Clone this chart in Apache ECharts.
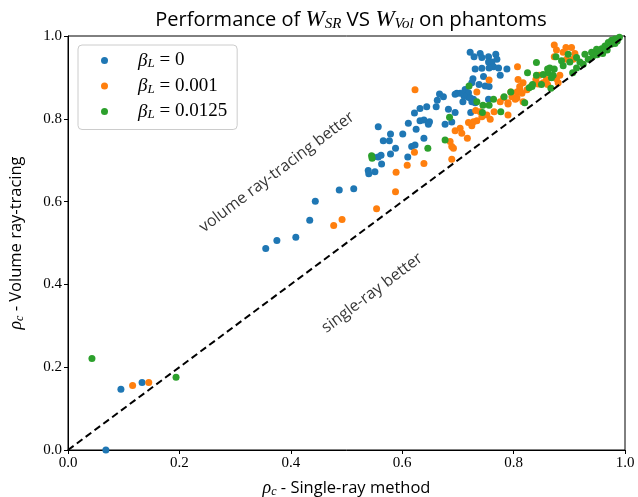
<!DOCTYPE html>
<html><head><meta charset="utf-8">
<script src="https://cdn.jsdelivr.net/npm/echarts@6/dist/echarts.min.js"></script>
<style>html,body{margin:0;padding:0;background:#fff}#c{width:638px;height:497px}</style>
</head><body><div id="c"></div>
<script>
const seriesNames = ['β_L = 0', 'β_L = 0.001', 'β_L = 0.0125'];
const legendValues = ['0', '0.001', '0.0125'];
const tickValues = [0, 0.2, 0.4, 0.6, 0.8, 1.0];
const diagonal = [[0, 0], [1, 1]];

const blueData = [
[0.355,0.487],[0.375,0.506],[0.409,0.514],[0.434,0.555],[0.444,0.601],[0.487,0.628],[0.513,0.631],
[0.557,0.781],[0.579,0.763],[0.566,0.747],[0.577,0.747],[0.601,0.763],[0.611,0.789],[0.622,0.814],[0.632,0.795],[0.639,0.797],[0.649,0.793],[0.647,0.787],[0.625,0.775],[0.639,0.753],[0.588,0.729],[0.617,0.733],[0.623,0.737],[0.610,0.708],[0.579,0.715],[0.562,0.712],[0.557,0.708],[0.548,0.708],[0.539,0.675],[0.540,0.667],[0.551,0.672],
[0.632,0.825],[0.644,0.829],[0.661,0.829],[0.663,0.845],[0.667,0.860],[0.674,0.853],[0.698,0.862],[0.713,0.857],[0.719,0.852],[0.709,0.841],[0.725,0.841],[0.723,0.815],[0.695,0.815],[0.683,0.823],[0.677,0.787],[0.689,0.792],[0.563,0.691],
[0.722,0.961],[0.729,0.950],[0.740,0.958],[0.743,0.948],[0.755,0.950],[0.768,0.956],[0.770,0.944],[0.755,0.937],[0.761,0.937],[0.764,0.926],[0.756,0.923],[0.773,0.923],[0.788,0.920],[0.743,0.922],[0.731,0.920],[0.776,0.905],[0.746,0.902],[0.727,0.897],[0.725,0.887],[0.738,0.883],[0.749,0.879],[0.756,0.878],[0.713,0.871],[0.719,0.863],[0.711,0.855],[0.722,0.851],[0.704,0.862],[0.695,0.859],[0.728,0.847],[0.731,0.839],[0.755,0.847],
[0.095,0.147],[0.133,0.163],[0.068,0.0]
];
const orangeData = [
[0.477,0.542],[0.492,0.557],[0.554,0.583],[0.588,0.624],[0.622,0.719],[0.639,0.692],[0.609,0.688],[0.589,0.671],[0.623,0.870],[0.734,0.865],[0.695,0.771],[0.704,0.777],[0.707,0.765],[0.719,0.791],[0.725,0.783],[0.734,0.795],[0.743,0.805],[0.740,0.817],[0.752,0.809],[0.765,0.817],[0.776,0.841],[0.790,0.809],[0.717,0.753],[0.686,0.745],[0.689,0.733],[0.692,0.729],[0.689,0.702],
[0.807,0.926],[0.756,0.894],[0.782,0.851],[0.795,0.865],[0.808,0.895],[0.817,0.887],[0.811,0.871],[0.803,0.847],[0.790,0.839],[0.859,0.895],[0.853,0.887],[0.758,0.799],
[0.811,0.878],[0.806,0.865],[0.815,0.862],[0.824,0.870],[0.797,0.853],[0.806,0.850],[0.817,0.841],[0.790,0.836],[0.732,0.820],[0.728,0.793],[0.844,0.884],[0.880,0.887],
[0.873,0.978],[0.877,0.966],[0.894,0.972],[0.904,0.972],[0.889,0.961],[0.910,0.958],[0.873,0.950],[0.895,0.944],[0.907,0.944],[0.846,0.905],[0.840,0.895],[0.861,0.883],[0.883,0.905],[0.877,0.897],[0.832,0.879],
[0.116,0.156],[0.145,0.163]
];
const greenData = [
[0.043,0.221],[0.194,0.176],[0.545,0.711],[0.546,0.705],[0.646,0.729],[0.685,0.804],[0.677,0.749],[0.734,0.841],[0.745,0.833],[0.744,0.815],[0.756,0.833],[0.764,0.847],[0.777,0.817],[0.783,0.853],[0.720,0.879],[0.841,0.936],[0.825,0.911],[0.841,0.905],[0.850,0.883],[0.861,0.920],[0.828,0.875],[0.820,0.839],[0.795,0.865],[0.833,0.878],[0.867,0.874],
[0.876,0.950],[0.886,0.940],[0.898,0.956],[0.901,0.937],[0.913,0.948],[0.919,0.937],[0.928,0.956],[0.934,0.944],[0.943,0.952],[0.949,0.968],[0.955,0.964],[0.958,0.969],[0.964,0.976],[0.970,0.984],[0.976,0.990],[0.982,0.993],[0.986,0.988],[0.982,0.982],[0.968,0.966],[0.960,0.958],[0.940,0.961],[0.925,0.932],[0.913,0.923],[0.906,0.911],[0.889,0.928],[0.873,0.920],[0.865,0.923],[0.862,0.911],[0.871,0.905],[0.853,0.907],[0.868,0.899],[0.834,0.883],[0.990,0.997],[0.975,0.980],[0.950,0.955]
];

const SANS = 'Open Sans';
const SERIF = 'Liberation Serif';
const colors = ['#1f77b4', '#ff7f0e', '#2ca02c'];

const chart = echarts.init(document.getElementById('c'), null, {renderer: 'canvas'});
const mkScatter = (name, data, color) => ({
  name, type: 'scatter', data, symbolSize: 7,
  itemStyle: {color, opacity: 1}, z: 2
});
const axisNameRich = {
  r: {fontFamily: SERIF, fontStyle: 'italic', fontSize: 18, color: '#000', lineHeight: 20},
  s: {fontFamily: SERIF, fontStyle: 'italic', fontSize: 12, color: '#000', lineHeight: 20, verticalAlign: 'bottom'},
  t: {fontFamily: SANS, fontSize: 16.5, color: '#000', lineHeight: 20}
};
chart.setOption({
  animation: false,
  backgroundColor: '#fff',
  title: {
    text: 'Performance of {m|W}{s|SR}{t| VS }{m|W}{s|Vol}{t| on phantoms}',
    left: 346, textAlign: 'center', top: 3,
    textStyle: {
      fontFamily: SANS, fontSize: 20, fontWeight: 'normal', color: '#000',
      rich: {
        t: {fontFamily: SANS, fontSize: 20.5, color: '#000', lineHeight: 24},
        m: {fontFamily: SERIF, fontStyle: 'italic', fontSize: 23, color: '#000', lineHeight: 24},
        s: {fontFamily: SERIF, fontStyle: 'italic', fontSize: 15, color: '#000', lineHeight: 24, verticalAlign: 'bottom'}
      }
    }
  },
  grid: {left: 68, right: 13, top: 36, bottom: 47, outerBoundsMode: 'none', containLabel: false,
    show: true, borderColor: '#000', borderWidth: 1, backgroundColor: 'transparent'},
  legend: {
    data: seriesNames, orient: 'vertical', left: 78, top: 45, padding: [6, 10, 8, 23],
    backgroundColor: 'rgba(255,255,255,0.85)', borderColor: '#ccc', borderWidth: 1, borderRadius: 4,
    itemGap: 6, icon: 'circle', itemWidth: 7, itemHeight: 7,
    formatter: (n) => '{b|β}{s|L}{n| = ' + legendValues[seriesNames.indexOf(n)] + '}',
    textStyle: {
      padding: [0, 0, 0, 25],
      rich: {
        b: {fontFamily: SERIF, fontStyle: 'italic', fontSize: 19, color: '#000', lineHeight: 20},
        s: {fontFamily: SERIF, fontStyle: 'italic', fontSize: 13, color: '#000', lineHeight: 20, verticalAlign: 'bottom'},
        n: {fontFamily: SERIF, fontSize: 19, color: '#000', lineHeight: 20}
      }
    }
  },
  xAxis: {
    type: 'value', min: 0, max: 1, interval: 0.2,
    name: '{r|ρ}{s|c}{t| - Single-ray method}', nameLocation: 'middle', nameGap: 28,
    nameTextStyle: {rich: axisNameRich},
    axisLine: {show: true, onZero: false, lineStyle: {color: '#000', width: 1}},
    axisTick: {show: true, length: 4, lineStyle: {color: '#000'}},
    axisLabel: {fontFamily: SERIF, fontSize: 15, color: '#000', margin: 6, formatter: v => v.toFixed(1)},
    splitLine: {show: false}
  },
  yAxis: {
    type: 'value', min: 0, max: 1, interval: 0.2,
    name: '{r|ρ}{s|c}{t| - Volume ray-tracing}', nameLocation: 'middle', nameGap: 42, nameRotate: 90,
    nameTextStyle: {rich: axisNameRich},
    axisLine: {show: true, onZero: false, lineStyle: {color: '#000', width: 1}},
    axisTick: {show: true, length: 4, lineStyle: {color: '#000'}},
    axisLabel: {fontFamily: SERIF, fontSize: 15, color: '#000', margin: 6, formatter: v => v.toFixed(1)},
    splitLine: {show: false}
  },
  series: [
    mkScatter(seriesNames[0], blueData, colors[0]),
    mkScatter(seriesNames[1], orangeData, colors[1]),
    mkScatter(seriesNames[2], greenData, colors[2]),
    {
      type: 'line', data: diagonal, symbol: 'none', silent: true, z: 3,
      lineStyle: {color: '#000', width: 2, type: [7, 4]}
    },
    {
      type: 'scatter', silent: true, symbolSize: 0, z: 4,
      data: [
        {value: [0.375, 0.671], label: {formatter: 'volume ray-tracing better'}},
        {value: [0.546, 0.379], label: {formatter: 'single-ray better'}}
      ],
      label: {show: true, position: 'inside', rotate: 37, fontFamily: SANS, fontSize: 16, color: '#000'}
    }
  ]
});
</script></body></html>
